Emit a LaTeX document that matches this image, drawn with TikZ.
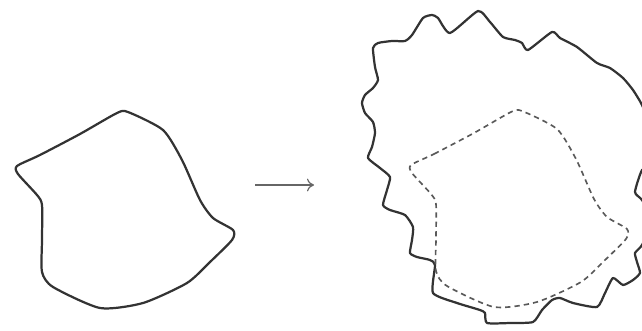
\documentclass[tikz,border=0pt]{standalone}
\usepackage{tikz}
\usetikzlibrary{arrows.meta}
\tikzset{
  outline/.style={line width=1.9pt, draw=black!80, line join=round},
  dashline/.style={line width=1.4pt, draw=black!65, dash pattern=on 4.5pt off 3.5pt},
  arrow/.style={line width=1pt, draw=black!60, -{To[length=6pt,width=11pt]}}
}
% the plain blob, reused as the dashed outline on the right
\newcommand{\blobpath}{plot[smooth cycle, tension=0.4] coordinates {
  (17,166) (40,155) (80,134) (117,113) (128,112) (163,130) (182,160) (200,200)
  (213,218) (233,230) (232,240) (210,262) (187,283) (143,303) (100,308)
  (53,287) (42,272) (42,240) (42,205) (37,195) (18,174)}}

\begin{document}
\begin{tikzpicture}[x=0.03cm, y=-0.03cm]
  \clip (0,0) rectangle (642,330);

  % --- left blob ---
  \draw[outline] \blobpath;

  % --- arrow ---
  \coordinate (pre) at (255,185);
  \coordinate (post) at (314,185);
  \draw[arrow] (pre) -- (post);

  % --- right: grown outline ---
  \draw[outline] plot[smooth cycle, tension=0.35] coordinates {
    (373,48) (378,43) (392,41) (405,41) (412,35) (423,18) (432,15) (438,18)
    (450,33) (478,11) (490,22) (503,37) (515,40) (522,43) (528,50) (552,32)
    (560,38) (577,47) (597,63) (610,68) (623,78) (633,90) (642,105) (652,130)
    (652,165) (642,170) (635,192) (642,200) (652,220) (642,245) (635,253)
    (637,262) (640,273) (633,280) (623,285) (613,278) (605,293) (597,307)
    (573,303) (560,298) (552,300) (542,310) (533,322) (510,323) (487,323)
    (485,313) (480,310) (457,303) (433,293) (435,265) (430,260) (417,257)
    (410,253) (412,240) (413,227) (405,215) (390,210) (383,205) (387,190)
    (390,177) (380,168) (368,158) (372,147) (375,133) (373,122) (365,113)
    (362,103) (365,95) (373,88) (378,80) (375,67)};

  % --- right: original blob, dashed ---
  \begin{scope}[shift={(394,-1)}]
    \draw[dashline] \blobpath;
  \end{scope}
\end{tikzpicture}
\end{document}
